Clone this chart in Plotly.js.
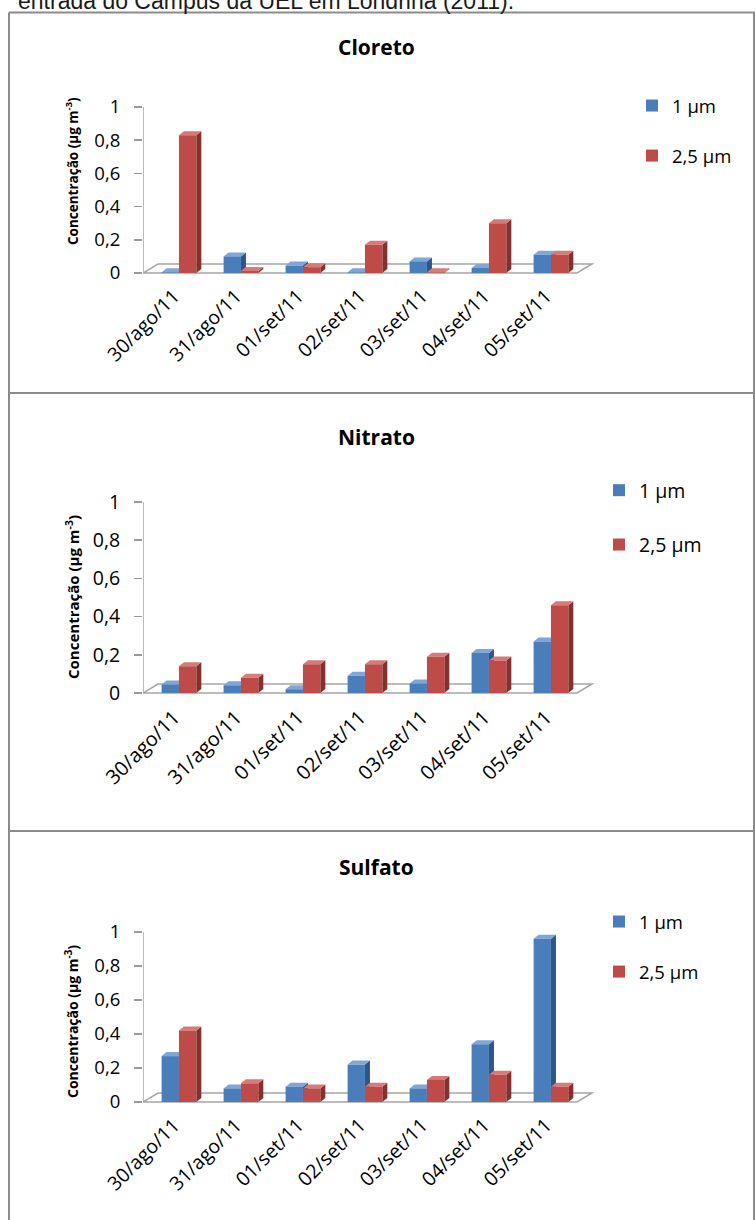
<!DOCTYPE html>
<html>
<head>
<meta charset="utf-8">
<script src="https://cdn.plot.ly/plotly-3.0.1.min.js"></script>
<style>
  html, body { margin: 0; padding: 0; background: #fff; }
  #chart { width: 755px; height: 1220px; }
</style>
</head>
<body>
<div id="chart"></div>
<script>
// ---------- data ----------
const categories = ['30/ago/11', '31/ago/11', '01/set/11', '02/set/11', '03/set/11', '04/set/11', '05/set/11'];
const seriesNames = ['1 µm', '2,5 µm'];
const panelTitles = ['Cloreto', 'Nitrato', 'Sulfato'];
const yTitle = 'Concentração (µg m<sup>-3</sup>)';
const caption = 'entrada do Campus da UEL em Londrina (2011).';

const cloreto1  = [0.004, 0.10, 0.045, 0.004, 0.07, 0.03, 0.11];
const cloreto25 = [0.83, 0.012, 0.035, 0.17, 0.004, 0.30, 0.11];
const nitrato1  = [0.045, 0.04, 0.02, 0.09, 0.05, 0.21, 0.27];
const nitrato25 = [0.14, 0.08, 0.15, 0.15, 0.19, 0.17, 0.46];
const sulfato1  = [0.27, 0.08, 0.09, 0.22, 0.08, 0.34, 0.96];
const sulfato25 = [0.42, 0.11, 0.08, 0.09, 0.13, 0.16, 0.09];

const yTickVals = [0, 0.2, 0.4, 0.6, 0.8, 1];
const yTickText = ['0', '0,2', '0,4', '0,6', '0,8', '1'];

// ---------- layout helpers (pixel geometry) ----------
const W = 755, H = 1220;
const fx = p => p / W;
const fy = p => 1 - p / H;
const FONT = 'Open Sans, Lato, sans-serif';

const COLORS = [
  { front: '#4A7EBB', side: '#2E5689', top: '#7FA6D8' },
  { front: '#BE4B48', side: '#86302E', top: '#D87A77' }
];

const axisLeftPx = 143, catPx = 62;
const xMin = -0.5, xMax = 6.8;
const xDomain = [fx(axisLeftPx), fx(axisLeftPx + (xMax - xMin) * catPx)];

const panels = [
  { s1: cloreto1, s2: cloreto25, y0: 273, y1: 107, titleY: 47, yTitleY: 171, yTitleSize: 13.5, tickSize: 18.5, catSize: 19.5, legX: 632, legY: 87, gap: 23 },
  { s1: nitrato1, s2: nitrato25, y0: 693, y1: 502, titleY: 437, yTitleY: 597, yTitleSize: 15, tickSize: 19.5, catSize: 20, legX: 599, legY: 471, gap: 26 },
  { s1: sulfato1, s2: sulfato25, y0: 1102, y1: 932, titleY: 867, yTitleY: 1022, yTitleSize: 14, tickSize: 18.5, catSize: 19.5, legX: 599, legY: 903, gap: 23 }
];

const barWidth = 0.28;
const offsets = [-0.2, 0.08];
const depthPx = { dx: 5, dy: 4 };
const floorPx = { dx: 15, dy: 9 };

const data = [];
const shapes = [];
const annotations = [];
const layout = {
  width: W, height: H,
  margin: { l: 0, r: 0, t: 0, b: 0 },
  paper_bgcolor: '#fff', plot_bgcolor: 'rgba(0,0,0,0)',
  barmode: 'overlay',
  showlegend: true,
  font: { family: FONT, color: '#000' }
};

const idx = categories.map((c, i) => i);

panels.forEach((p, k) => {
  const n = k === 0 ? '' : String(k + 1);
  const xa = 'x' + n, ya = 'y' + n;
  const legName = 'legend' + n;
  const sc = p.y0 - p.y1;           // px per unit
  const pad = 0.03;
  layout['xaxis' + n] = {
    domain: xDomain, range: [xMin, xMax], anchor: ya,
    tickmode: 'array', tickvals: idx, ticktext: categories,
    tickangle: -45, ticks: '', showline: false, showgrid: false, zeroline: false,
    tickfont: { family: FONT, size: p.catSize, color: '#000' },
    ticklabelstandoff: 2, fixedrange: true
  };
  layout['yaxis' + n] = {
    domain: [fy(p.y0 + pad * sc), fy(p.y1 - pad * sc)], range: [-pad, 1 + pad], anchor: xa,
    tickmode: 'array', tickvals: yTickVals, ticktext: yTickText,
    ticks: 'outside', ticklen: 8, tickwidth: 1.5, tickcolor: '#9A9A9A',
    showline: false, showgrid: false, zeroline: false,
    tickfont: { family: FONT, size: p.tickSize, color: '#000' },
    ticklabelstandoff: 10, fixedrange: true
  };
  layout[legName] = {
    x: fx(p.legX), y: fy(p.legY), xanchor: 'left', yanchor: 'top',
    font: { family: FONT, size: p.tickSize, color: '#000' },
    bgcolor: 'rgba(0,0,0,0)', traceorder: 'grouped', tracegroupgap: p.gap
  };

  // floor
  const fdx = floorPx.dx / catPx, fdy = floorPx.dy / sc;
  shapes.push({
    type: 'path', xref: xa, yref: ya, layer: 'below',
    path: `M ${xMin},0 L 6.5,0 L ${6.5 + fdx},${fdy} L ${xMin + fdx},${fdy} Z`,
    fillcolor: '#FFFFFF', line: { color: '#A6A6A6', width: 1.5 }
  });
  // y axis line
  shapes.push({
    type: 'line', xref: xa, yref: ya, layer: 'below',
    x0: xMin, x1: xMin, y0: 0, y1: 1, line: { color: '#A6A6A6', width: 1.5 }
  });

  const ddx = depthPx.dx / catPx, ddy = depthPx.dy / sc;
  [p.s1, p.s2].forEach((vals, si) => {
    data.push({
      type: 'bar', name: seriesNames[si], x: idx, y: vals,
      xaxis: xa, yaxis: ya, width: barWidth, offset: offsets[si],
      marker: { color: COLORS[si].front, line: { width: 0 } },
      legend: legName, legendgroup: 'g' + k + si, showlegend: true,
      hoverinfo: 'skip'
    });
    vals.forEach((v, i) => {
      const x0 = i + offsets[si], x1 = x0 + barWidth;
      shapes.push({
        type: 'path', xref: xa, yref: ya, layer: 'below',
        path: `M ${x1},0 L ${x1},${v} L ${x1 + ddx},${v + ddy} L ${x1 + ddx},${ddy} Z`,
        fillcolor: COLORS[si].side, line: { width: 0 }
      });
      shapes.push({
        type: 'path', xref: xa, yref: ya, layer: 'below',
        path: `M ${x0},${v} L ${x1},${v} L ${x1 + ddx},${v + ddy} L ${x0 + ddx},${v + ddy} Z`,
        fillcolor: COLORS[si].top, line: { width: 0 }
      });
    });
  });

  // panel title
  annotations.push({
    text: panelTitles[k], xref: 'paper', yref: 'paper',
    x: fx(376), y: fy(p.titleY), xanchor: 'center', yanchor: 'middle', showarrow: false,
    font: { family: FONT, size: 21, weight: 700, color: '#000' }
  });
  // y title
  annotations.push({
    text: yTitle, xref: 'paper', yref: 'paper', textangle: -90,
    x: fx(72), y: fy(p.yTitleY), xanchor: 'center', yanchor: 'middle', showarrow: false,
    font: { family: FONT, size: p.yTitleSize, weight: 700, color: '#000' }
  });
});

// caption (cut at the top edge, as in the source)
annotations.push({
  text: caption, xref: 'paper', yref: 'paper', x: fx(16), y: fy(16),
  xanchor: 'left', yanchor: 'bottom', showarrow: false,
  font: { family: 'Liberation Sans, Arial, sans-serif', size: 23, color: '#1a1a1a' }
});

// panel frames
const frame = { color: '#8C8C8C', width: 2 };
[[9, 12.5, 755, 12.5], [9, 12.5, 9, 1222], [754, 12.5, 754, 1222], [9, 393, 755, 393], [9, 831, 755, 831]]
  .forEach(l => shapes.push({
    type: 'line', xref: 'paper', yref: 'paper', layer: 'above',
    x0: fx(l[0]), y0: fy(l[1]), x1: fx(l[2]), y1: fy(l[3]), line: frame
  }));

layout.shapes = shapes;
layout.annotations = annotations;

Plotly.newPlot('chart', data, layout, { displayModeBar: false, staticPlot: true });
</script>
</body>
</html>
